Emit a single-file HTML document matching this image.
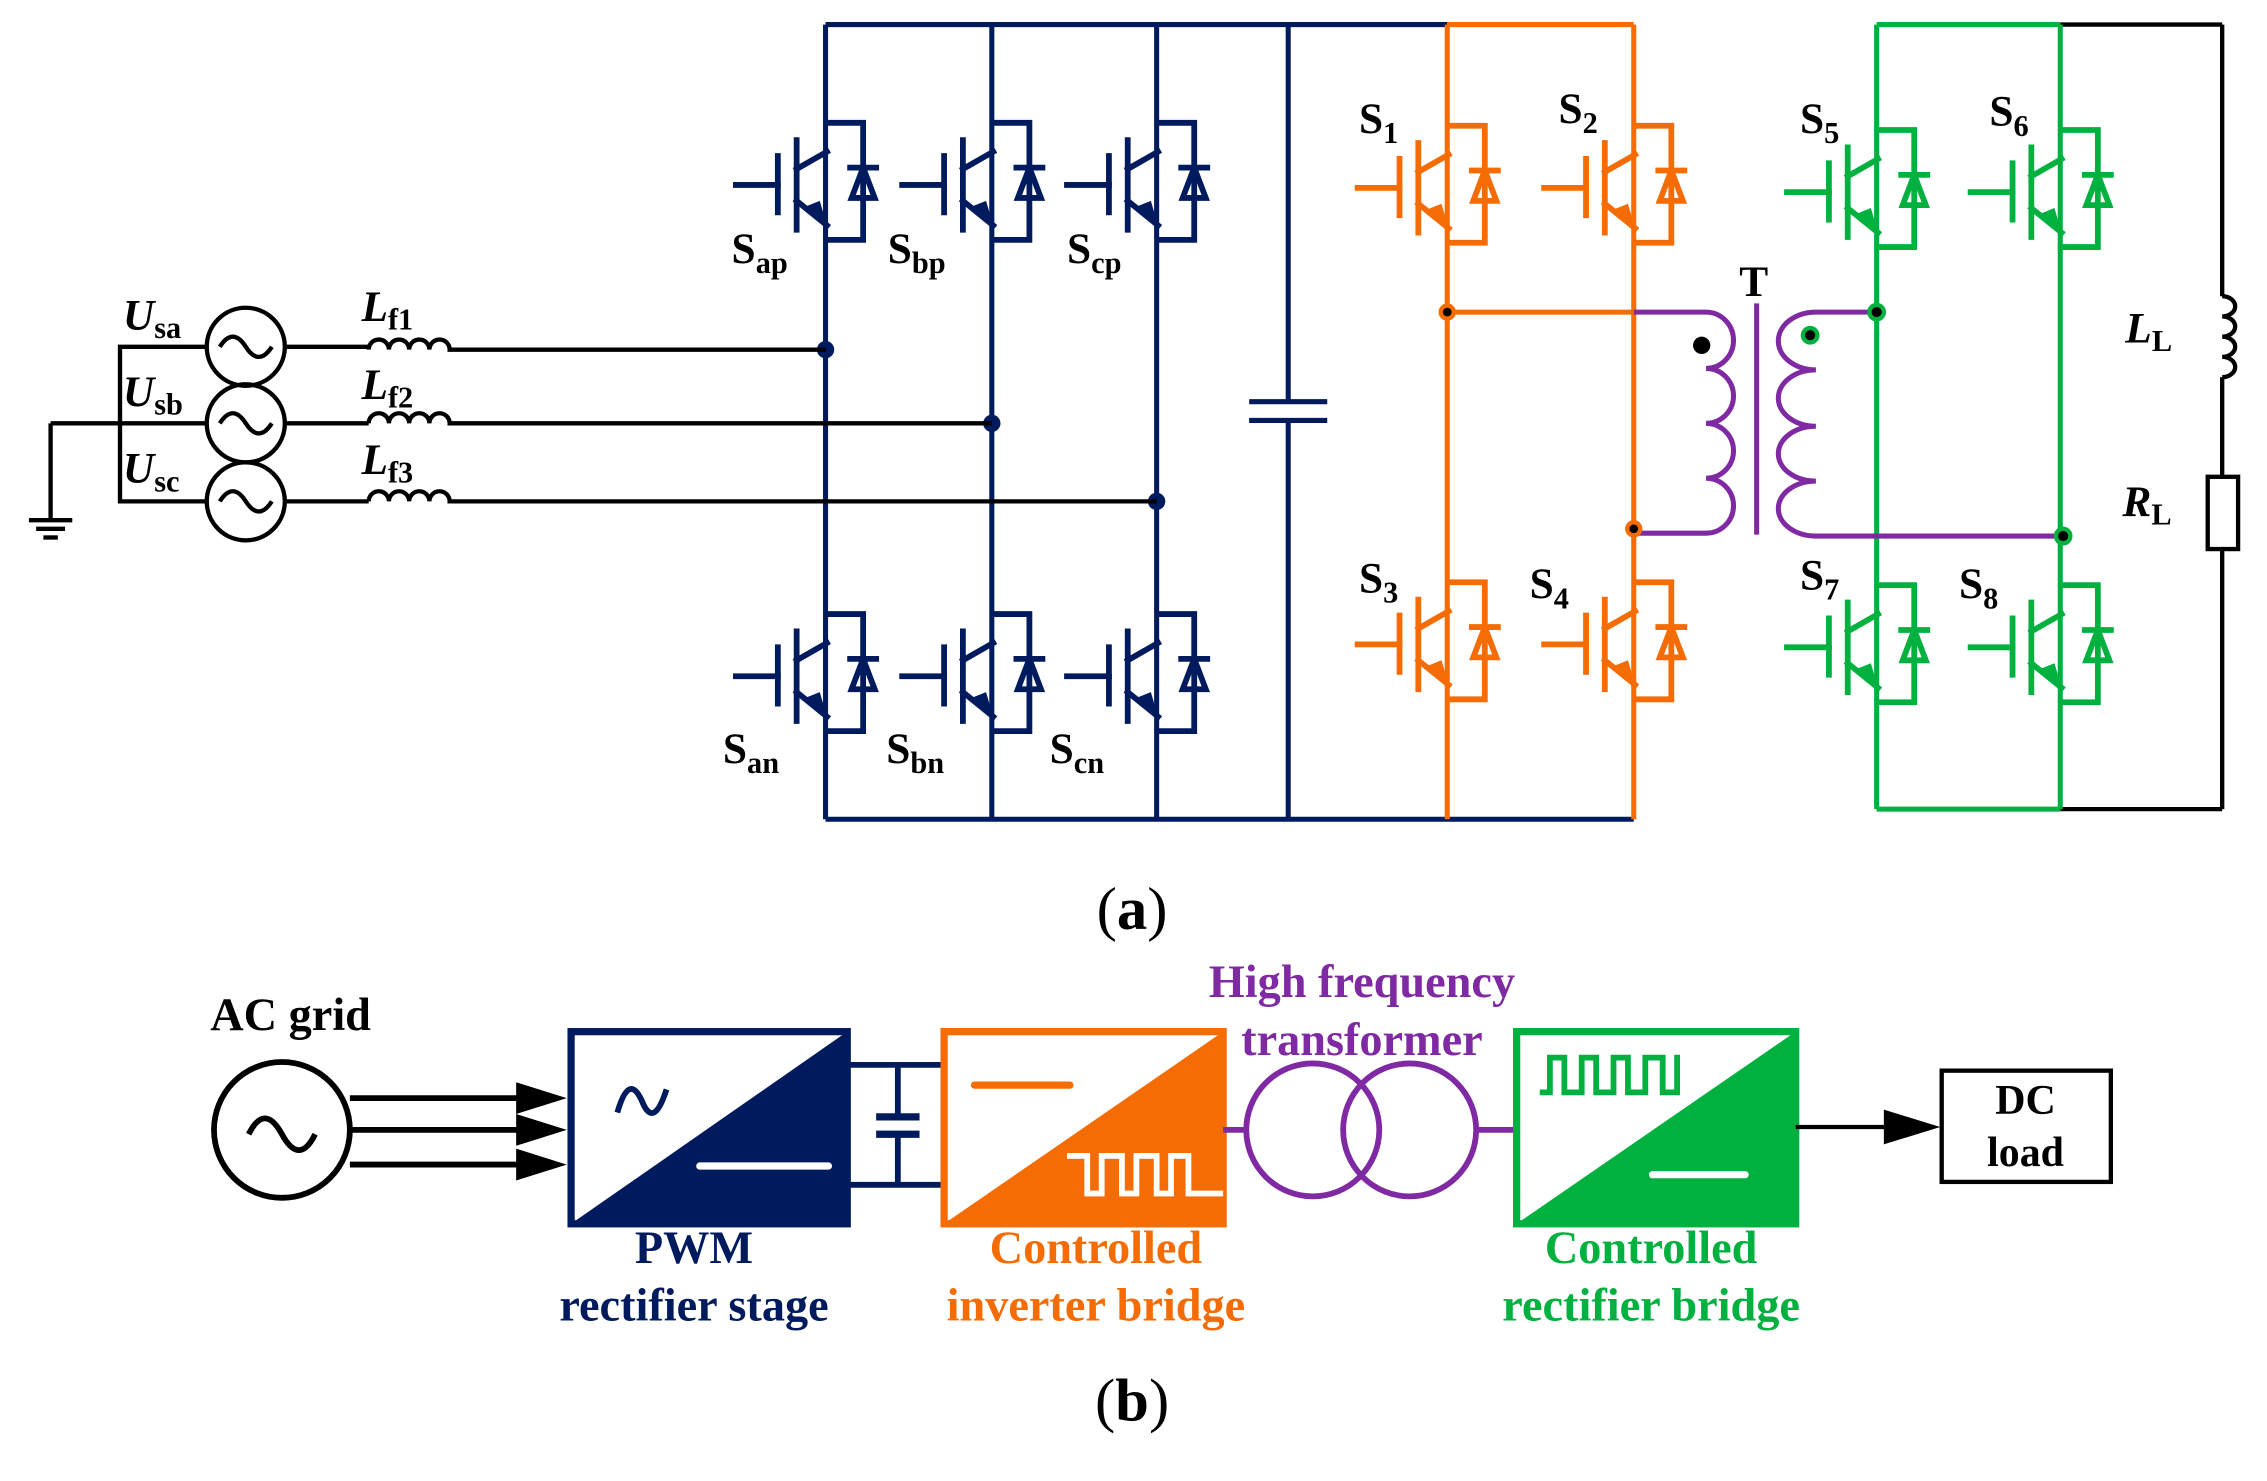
<!DOCTYPE html>
<html><head><meta charset="utf-8"><style>
html,body{margin:0;padding:0;background:#fff;}
svg{display:block;}
text{font-family:"Liberation Serif",serif;font-weight:bold;}
</style></head><body>
<svg width="2267" height="1481" viewBox="0 0 1568 1025" preserveAspectRatio="none" xmlns="http://www.w3.org/2000/svg">
<defs>
<g id="igbt" fill="none" stroke-width="4" stroke-linecap="square">
<line x1="-63" y1="0" x2="-34" y2="0"/>
<line x1="-34" y1="-20" x2="-34" y2="19"/>
<line x1="-21" y1="-31" x2="-21" y2="31"/>
<line x1="-21" y1="-11" x2="0" y2="-23"/>
<line x1="-21" y1="11" x2="0" y2="28"/>
<polyline points="0,-43 25,-43 25,38 0,38"/>
<line x1="16" y1="-12" x2="34" y2="-12"/>
<polygon points="25,-12 17,9 33,9"/>
</g>
<g id="ar"><polygon points="0,28 -15,15 -5,11" stroke="none"/></g>
</defs>

<g stroke="#001a5e" fill="none" stroke-width="3.5">
<line x1="571" y1="17" x2="1001" y2="17"/>
<line x1="571" y1="567" x2="1130" y2="567"/>
<line x1="571" y1="17" x2="571" y2="567"/>
<line x1="686" y1="17" x2="686" y2="567"/>
<line x1="800" y1="17" x2="800" y2="567"/>
<line x1="891" y1="17" x2="891" y2="278"/>
<line x1="891" y1="291" x2="891" y2="567"/>
<line x1="864" y1="278" x2="918" y2="278"/>
<line x1="864" y1="291" x2="918" y2="291"/>
</g>
<g stroke="#001a5e" fill="#001a5e">
<use href="#igbt" x="572" y="128"/><use href="#ar" x="572" y="128"/>
<use href="#igbt" x="687" y="128"/><use href="#ar" x="687" y="128"/>
<use href="#igbt" x="801" y="128"/><use href="#ar" x="801" y="128"/>
<use href="#igbt" x="572" y="468"/><use href="#ar" x="572" y="468"/>
<use href="#igbt" x="687" y="468"/><use href="#ar" x="687" y="468"/>
<use href="#igbt" x="801" y="468"/><use href="#ar" x="801" y="468"/>
</g>
<g fill="#001a5e"><circle cx="571" cy="242" r="6"/><circle cx="686" cy="293" r="6"/><circle cx="800" cy="347" r="6"/></g>

<g stroke="#000" fill="none" stroke-width="3">
<circle cx="170" cy="240" r="27"/><circle cx="170" cy="293" r="27"/><circle cx="170" cy="347" r="27"/>
<path d="M152 240 q9 -14 18 0 t18 0 M152 293 q9 -14 18 0 t18 0 M152 347 q9 -14 18 0 t18 0"/>
<polyline points="143,240 83,240 83,347 143,347"/>
<line x1="35" y1="293" x2="143" y2="293"/>
<line x1="35" y1="293" x2="35" y2="360"/>
<line x1="20" y1="360" x2="50" y2="360"/><line x1="25" y1="366" x2="45" y2="366"/><line x1="30" y1="372" x2="40" y2="372"/>
<line x1="197" y1="240" x2="255" y2="240"/><line x1="197" y1="293" x2="255" y2="293"/><line x1="197" y1="347" x2="255" y2="347"/>
<path d="M255 242 a7 7 0 0 1 14 0 a7 7 0 0 1 14 0 a7 7 0 0 1 14 0 a7 7 0 0 1 14 0 L571 242"/>
<path d="M255 293 a7 7 0 0 1 14 0 a7 7 0 0 1 14 0 a7 7 0 0 1 14 0 a7 7 0 0 1 14 0 L686 293"/>
<path d="M255 347 a7 7 0 0 1 14 0 a7 7 0 0 1 14 0 a7 7 0 0 1 14 0 a7 7 0 0 1 14 0 L800 347"/>
<line x1="1425" y1="17" x2="1537" y2="17"/>
<line x1="1425" y1="560" x2="1537" y2="560"/>
<line x1="1537" y1="17" x2="1537" y2="205"/>
<path d="M1537 205 a9 7 0 0 1 0 14 a9 7 0 0 1 0 14 a9 7 0 0 1 0 14 a9 7 0 0 1 0 14"/>
<line x1="1537" y1="261" x2="1537" y2="330"/>
<rect x="1527" y="330" width="21" height="50"/>
<line x1="1537" y1="380" x2="1537" y2="560"/>
</g>
<g font-size="30" fill="#000">
<text x="85" y="228" font-style="italic">U<tspan font-size="21" font-style="normal" dy="6">sa</tspan></text>
<text x="85" y="281" font-style="italic">U<tspan font-size="21" font-style="normal" dy="6">sb</tspan></text>
<text x="85" y="334" font-style="italic">U<tspan font-size="21" font-style="normal" dy="6">sc</tspan></text>
<text x="250" y="222" font-style="italic">L<tspan font-size="21" font-style="normal" dy="6">f1</tspan></text>
<text x="250" y="276" font-style="italic">L<tspan font-size="21" font-style="normal" dy="6">f2</tspan></text>
<text x="250" y="328" font-style="italic">L<tspan font-size="21" font-style="normal" dy="6">f3</tspan></text>
<text x="1470" y="237" font-style="italic">L<tspan font-size="21" font-style="normal" dy="6">L</tspan></text>
<text x="1468" y="357" font-style="italic">R<tspan font-size="21" font-style="normal" dy="6">L</tspan></text>
<text x="1203" y="205">T</text>
<text x="506" y="182">S<tspan font-size="21" dy="7">ap</tspan></text>
<text x="614" y="182">S<tspan font-size="21" dy="7">bp</tspan></text>
<text x="738" y="182">S<tspan font-size="21" dy="7">cp</tspan></text>
<text x="500" y="528">S<tspan font-size="21" dy="7">an</tspan></text>
<text x="613" y="528">S<tspan font-size="21" dy="7">bn</tspan></text>
<text x="726" y="528">S<tspan font-size="21" dy="7">cn</tspan></text>
<text x="940" y="92">S<tspan font-size="21" dy="7">1</tspan></text>
<text x="1078" y="85">S<tspan font-size="21" dy="7">2</tspan></text>
<text x="940" y="410">S<tspan font-size="21" dy="7">3</tspan></text>
<text x="1058" y="414">S<tspan font-size="21" dy="7">4</tspan></text>
<text x="1245" y="92">S<tspan font-size="21" dy="7">5</tspan></text>
<text x="1376" y="87">S<tspan font-size="21" dy="7">6</tspan></text>
<text x="1245" y="408">S<tspan font-size="21" dy="7">7</tspan></text>
<text x="1355" y="414">S<tspan font-size="21" dy="7">8</tspan></text>
</g>
<text x="783" y="643" font-size="42" text-anchor="middle" style="font-weight:normal">(<tspan font-weight="bold">a</tspan>)</text>

<g stroke="#f46c03" fill="none" stroke-width="3.5">
<line x1="1001" y1="17" x2="1130" y2="17"/>
<line x1="1001" y1="17" x2="1001" y2="567"/>
<line x1="1130" y1="17" x2="1130" y2="567"/>
<line x1="1001" y1="216" x2="1130" y2="216"/>
</g>
<g stroke="#f46c03" fill="#f46c03">
<use href="#igbt" x="1002" y="130"/><use href="#ar" x="1002" y="130"/>
<use href="#igbt" x="1131" y="130"/><use href="#ar" x="1131" y="130"/>
<use href="#igbt" x="1002" y="446"/><use href="#ar" x="1002" y="446"/>
<use href="#igbt" x="1131" y="446"/><use href="#ar" x="1131" y="446"/>
</g>

<g stroke="#00b140" fill="none" stroke-width="3.5">
<line x1="1298" y1="17" x2="1425" y2="17"/>
<line x1="1298" y1="17" x2="1298" y2="560"/>
<line x1="1425" y1="17" x2="1425" y2="560"/>
<line x1="1298" y1="560" x2="1425" y2="560"/>
</g>
<g stroke="#00b140" fill="#00b140">
<use href="#igbt" x="1299" y="133"/><use href="#ar" x="1299" y="133"/>
<use href="#igbt" x="1426" y="133"/><use href="#ar" x="1426" y="133"/>
<use href="#igbt" x="1299" y="448"/><use href="#ar" x="1299" y="448"/>
<use href="#igbt" x="1426" y="448"/><use href="#ar" x="1426" y="448"/>
</g>

<g stroke="#7f2aa3" fill="none" stroke-width="3.5">
<path d="M1130 216 L1180 216 a19 19.5 0 0 1 0 39 a19 19 0 0 1 0 38 a19 19 0 0 1 0 38 a19 19 0 0 1 0 38 L1130 369"/>
<line x1="1215" y1="210" x2="1215" y2="370"/>
<path d="M1298 216 L1256 216 a26 20 0 0 0 0 40 a26 19.5 0 0 0 0 39 a26 19 0 0 0 0 38 a26 19 0 0 0 0 38 L1425 371"/>
</g>
<circle cx="1177" cy="239" r="6" fill="#000"/>
<circle cx="1252" cy="232" r="5" fill="#000" stroke="#00b140" stroke-width="3"/>
<circle cx="1298" cy="216" r="5" fill="#000" stroke="#00b140" stroke-width="3"/>
<circle cx="1427" cy="371" r="5" fill="#000" stroke="#00b140" stroke-width="3"/>
<circle cx="1001" cy="216" r="4.5" fill="#000" stroke="#f46c03" stroke-width="3"/>
<circle cx="1130" cy="366" r="4.5" fill="#000" stroke="#f46c03" stroke-width="3"/>

<text x="201" y="713" font-size="32" text-anchor="middle" fill="#000">AC grid</text>
<circle cx="195" cy="782" r="47" fill="none" stroke="#000" stroke-width="4"/>
<path d="M172 785 q11 -22 23 0 t23 0" fill="none" stroke="#000" stroke-width="4"/>
<g stroke="#000" stroke-width="4">
<line x1="242" y1="760" x2="360" y2="760"/><line x1="242" y1="782" x2="360" y2="782"/><line x1="242" y1="806" x2="360" y2="806"/>
</g>
<g fill="#000">
<polygon points="357,749 392,760 357,771"/><polygon points="357,771 392,782 357,793"/><polygon points="357,795 392,806 357,817"/>
</g>
<rect x="395" y="714" width="191" height="133" fill="#fff" stroke="#001a5e" stroke-width="5"/>
<polygon points="586,714 586,847 395,847" fill="#001a5e"/>
<path d="M427 770 q8 -28 17 -8 q8 20 17 -8" fill="none" stroke="#001a5e" stroke-width="4"/>
<line x1="484" y1="807" x2="573" y2="807" stroke="#fff" stroke-width="5" stroke-linecap="round"/>
<g stroke="#001a5e" stroke-width="4">
<line x1="586" y1="737" x2="652" y2="737"/><line x1="586" y1="820" x2="652" y2="820"/>
<line x1="621" y1="737" x2="621" y2="773"/><line x1="621" y1="785" x2="621" y2="820"/>
<line x1="606" y1="773" x2="636" y2="773" stroke-width="5"/><line x1="606" y1="785" x2="636" y2="785" stroke-width="5"/>
</g>
<rect x="653" y="714" width="193" height="133" fill="#fff" stroke="#f46c03" stroke-width="5"/>
<polygon points="846,714 846,847 653,847" fill="#f46c03"/>
<line x1="674" y1="751" x2="740" y2="751" stroke="#f46c03" stroke-width="5" stroke-linecap="round"/>
<polyline points="738,800 752,800 752,826 762,826 762,800 776,800 776,826 786,826 786,800 800,800 800,826 810,826 810,800 822,800 822,826 846,826" fill="none" stroke="#fff" stroke-width="4"/>
<line x1="846" y1="782" x2="862" y2="782" stroke="#7f2aa3" stroke-width="4"/>
<line x1="1021" y1="782" x2="1047" y2="782" stroke="#7f2aa3" stroke-width="4"/>
<circle cx="908" cy="782" r="46" fill="none" stroke="#7f2aa3" stroke-width="4"/>
<circle cx="975" cy="782" r="46" fill="none" stroke="#7f2aa3" stroke-width="4"/>
<text x="942" y="690" font-size="32" text-anchor="middle" fill="#7f2aa3">High frequency</text>
<text x="942" y="730" font-size="32" text-anchor="middle" fill="#7f2aa3">transformer</text>
<rect x="1049" y="714" width="193" height="133" fill="#fff" stroke="#00b140" stroke-width="5"/>
<polygon points="1242,714 1242,847 1049,847" fill="#00b140"/>
<polyline points="1065,756 1072,756 1072,732 1082,732 1082,756 1094,756 1094,732 1104,732 1104,756 1116,756 1116,732 1126,732 1126,756 1138,756 1138,732 1150,732 1150,756 1160,756 1160,732 1162,732" fill="none" stroke="#00b140" stroke-width="4"/>
<line x1="1143" y1="813" x2="1207" y2="813" stroke="#fff" stroke-width="5" stroke-linecap="round"/>
<line x1="1242" y1="780" x2="1310" y2="780" stroke="#000" stroke-width="3"/>
<polygon points="1303,768 1342,780 1303,792" fill="#000"/>
<rect x="1343" y="741" width="117" height="77" fill="#fff" stroke="#000" stroke-width="3"/>
<text x="1401" y="771" font-size="29" text-anchor="middle">DC</text>
<text x="1401" y="807" font-size="29" text-anchor="middle">load</text>
<g font-size="32" text-anchor="middle">
<text x="480" y="874" fill="#001a5e">PWM</text>
<text x="480" y="914" fill="#001a5e">rectifier stage</text>
<text x="758" y="874" fill="#f46c03">Controlled</text>
<text x="758" y="914" fill="#f46c03">inverter bridge</text>
<text x="1142" y="874" fill="#00b140">Controlled</text>
<text x="1142" y="914" fill="#00b140">rectifier bridge</text>
</g>
<text x="783" y="983" font-size="42" text-anchor="middle" style="font-weight:normal">(<tspan font-weight="bold">b</tspan>)</text>
</svg>
</body></html>
